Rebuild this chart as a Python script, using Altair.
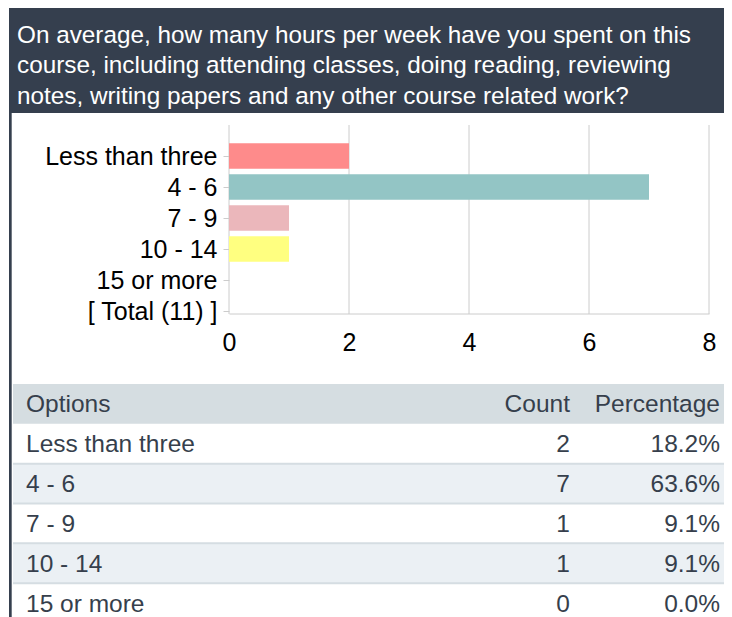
import altair as alt
import pandas as pd

# ---- data ----
question_lines = [
    "On average, how many hours per week have you spent on this",
    "course, including attending classes, doing reading, reviewing",
    "notes, writing papers and any other course related work?",
]
categories = ["Less than three", "4 - 6", "7 - 9", "10 - 14", "15 or more"]
counts = [2, 7, 1, 1, 0]
percentages = ["18.2%", "63.6%", "9.1%", "9.1%", "0.0%"]
total_label = "[ Total (11) ]"
x_ticks = [0, 2, 4, 6, 8]
table_header = ["Options", "Count", "Percentage"]
bar_colors = ["#fe8b8b", "#93c5c5", "#ebb7bb", "#ffff80", "#cccccc"]

# ---- style ----
FONT = "Liberation Sans"
DARK = "#353f4e"
GRID = "#cccccc"
HEAD_BG = "#d5dde1"
ALT_BG = "#ebf0f4"
SEP = "#d5dde2"
TXT = "#363f4c"
W, H = 716, 612

one = pd.DataFrame({"k": [0]})

header_bg = alt.Chart(one).mark_rect(color=DARK).encode(
    x=alt.value(1), x2=alt.value(W), y=alt.value(0), y2=alt.value(105)
)
left_border = alt.Chart(one).mark_rect(color=DARK).encode(
    x=alt.value(1), x2=alt.value(3.7), y=alt.value(104), y2=alt.value(H)
)
header_text = alt.Chart(pd.DataFrame({"q": ["\n".join(question_lines)]})).mark_text(
    lineBreak="\n", align="left", baseline="alphabetic", fontSize=24.3,
    lineHeight=30.5, color="white", font=FONT
).encode(x=alt.value(9), y=alt.value(34.5), text="q:N")

# ---- bar chart ----
bar_df = pd.DataFrame({"option": categories, "count": counts})
xscale = alt.Scale(domain=[0, 8], range=[221, 701], nice=False, zero=True)

grid = alt.Chart(pd.DataFrame({"count": x_ticks})).mark_rule(
    color=GRID, strokeWidth=1
).encode(
    x=alt.X("count:Q", scale=xscale),
    y=alt.value(117), y2=alt.value(306),
)

bars = alt.Chart(bar_df).mark_bar(size=25.5).encode(
    x=alt.X(
        "count:Q", scale=xscale,
        axis=alt.Axis(values=x_ticks, format="d", grid=False, ticks=False, tickSize=0,
                      domainColor=GRID, labelFontSize=25, labelColor="black",
                      labelFont=FONT, labelPadding=16.5, title=None,
                      offset=305.5 - H, labelFlush=False),
    ),
    y=alt.Y(
        "option:N",
        scale=alt.Scale(type="point", domain=categories + [total_label],
                        range=[148, 303], padding=0),
        axis=alt.Axis(offset=-221, domain=False, tickColor=GRID, tickSize=6,
                      labelPadding=6, labelFontSize=25, labelColor="black",
                      labelFont=FONT, title=None),
    ),
    color=alt.Color("option:N", scale=alt.Scale(domain=categories, range=bar_colors),
                    legend=None),
)

bar_chart = alt.layer(grid, bars)

# ---- table ----
rows_df = pd.DataFrame({
    "row": list(range(len(categories) + 1)),
    "option": [table_header[0]] + categories,
    "cnt": [table_header[1]] + [str(c) for c in counts],
    "pct": [table_header[2]] + percentages,
})
tscale = alt.Scale(domain=[0, 6], range=[376, 615], zero=False, nice=False)
tbl = alt.Chart(rows_df).transform_calculate(
    row1="datum.row + 1", mid="datum.row + 0.5"
)

alt_rows = tbl.transform_filter("datum.row == 2 || datum.row == 4").mark_rect(
    color=ALT_BG
).encode(
    x=alt.value(5), x2=alt.value(W),
    y=alt.Y("row:Q", scale=tscale, axis=None), y2="row1:Q",
)
head_row = tbl.transform_filter("datum.row == 0").mark_rect(color=HEAD_BG).encode(
    x=alt.value(5), x2=alt.value(W),
    y=alt.Y("row:Q", scale=tscale, axis=None), y2="row1:Q",
)
seps = tbl.transform_filter("datum.row >= 2").mark_rule(color=SEP, strokeWidth=2).encode(
    x=alt.value(5), x2=alt.value(W),
    y=alt.Y("row:Q", scale=tscale, axis=None),
)
txt_kw = dict(baseline="middle", fontSize=24.5, color=TXT, font=FONT, dy=1.5)
opt_text = tbl.mark_text(align="left", **txt_kw).encode(
    x=alt.value(18), y=alt.Y("mid:Q", scale=tscale, axis=None), text="option:N"
)
cnt_text = tbl.mark_text(align="right", **txt_kw).encode(
    x=alt.value(562), y=alt.Y("mid:Q", scale=tscale, axis=None), text="cnt:N"
)
pct_text = tbl.mark_text(align="right", **txt_kw).encode(
    x=alt.value(712), y=alt.Y("mid:Q", scale=tscale, axis=None), text="pct:N"
)
table = alt.layer(alt_rows, head_row, seps, opt_text, cnt_text, pct_text)

chart = alt.layer(
    header_bg, left_border, header_text, bar_chart, table
).resolve_scale(y="independent").properties(
    width=W, height=H, padding=0, autosize="none"
).configure_view(stroke=None)

chart.save("out.html", embed_options={"renderer": "svg", "actions": False})
